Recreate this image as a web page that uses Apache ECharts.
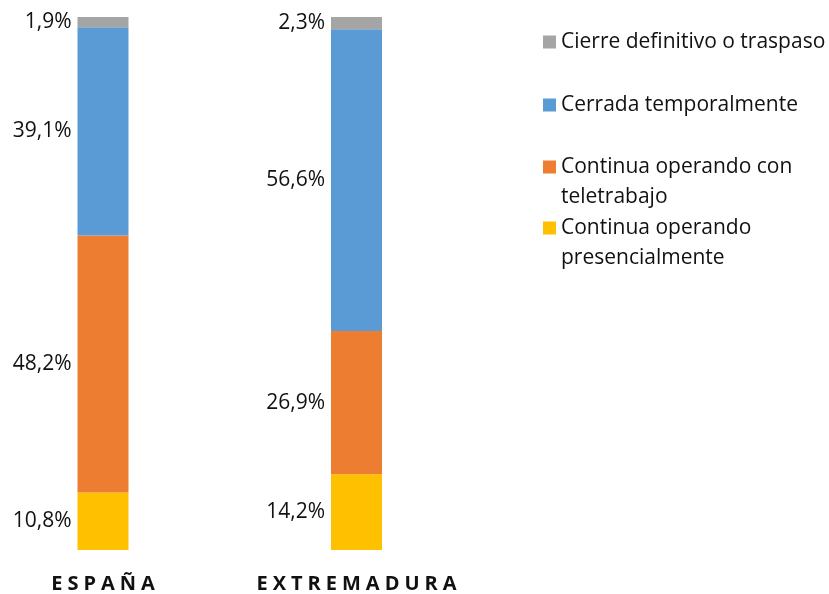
<!DOCTYPE html>
<html>
<head>
<meta charset="utf-8">
<script src="https://cdn.jsdelivr.net/npm/echarts@6/dist/echarts.min.js"></script>
<style>html,body{margin:0;padding:0;background:#fff}#c{width:829px;height:594px}</style>
</head>
<body>
<div id="c"></div>
<script>
const categories = ['ESPAÑA', 'EXTREMADURA'];
const seriesNames = ['Continua operando presencialmente', 'Continua operando con teletrabajo', 'Cerrada temporalmente', 'Cierre definitivo o traspaso'];
const presencial = [10.8, 14.2];
const teletrabajo = [48.2, 26.9];
const cerrada = [39.1, 56.6];
const cierre = [1.9, 2.3];
const legendOrder = ['Cierre definitivo o traspaso', 'Cerrada temporalmente', 'Continua operando con teletrabajo', 'Continua operando presencialmente'];
const legendLabels = ['Cierre definitivo o traspaso', 'Cerrada temporalmente', 'Continua operando con\nteletrabajo', 'Continua operando\npresencialmente'];

const colors = { 'Continua operando presencialmente': '#FFC000', 'Continua operando con teletrabajo': '#ED7D31', 'Cerrada temporalmente': '#5B9BD5', 'Cierre definitivo o traspaso': '#A5A5A5' };
const values = [presencial, teletrabajo, cerrada, cierre];
const FONT = 'Open Sans';
const TXT = '#111111';

const chart = echarts.init(document.getElementById('c'), null, { renderer: 'canvas' });

const legendCenters = [42, 105, 167, 228];
const legends = legendOrder.map((name, i) => {
  const twoLines = legendLabels[i].indexOf('\n') >= 0;
  return {
    data: [name],
    left: 543,
    top: legendCenters[i] - (twoLines ? 45 : 15),
    padding: 0,
    itemWidth: 13,
    itemHeight: 13,
    icon: 'rect',
    selectedMode: false,
    formatter: () => (twoLines ? '\n' : '') + legendLabels[i],
    textStyle: { fontFamily: FONT, fontSize: 21, color: TXT, lineHeight: 30 }
  };
});

const option = {
  animation: false,
  legend: legends,
  grid: { left: 103, right: 829 - 356.5, top: 17, bottom: 44, containLabel: false, outerBoundsMode: 'none' },
  xAxis: {
    type: 'category', data: categories, boundaryGap: false,
    axisLine: { show: false }, axisTick: { show: false }, splitLine: { show: false },
    axisLabel: {
      margin: 24, interval: 0,
      fontFamily: FONT, fontSize: 20, fontWeight: 'bold', color: TXT,
      formatter: v => v.split('').map(ch => '{l|' + ch + '}').join(''),
      rich: { l: { fontFamily: FONT, fontSize: 20, fontWeight: 'bold', color: TXT, padding: [0, 2.5] } }
    }
  },
  yAxis: { type: 'value', min: 0, max: 100, show: false, splitLine: { show: false } },
  series: seriesNames.map((name, i) => ({
    name, type: 'bar', stack: 'total', barWidth: 51,
    itemStyle: { color: colors[name] },
    data: values[i],
    label: {
      show: true, position: 'left', distance: 6,
      fontFamily: FONT, fontSize: 21, color: TXT,
      formatter: p => p.value.toFixed(1).replace('.', ',') + '%'
    }
  }))
};
chart.setOption(option);
</script>
</body>
</html>
